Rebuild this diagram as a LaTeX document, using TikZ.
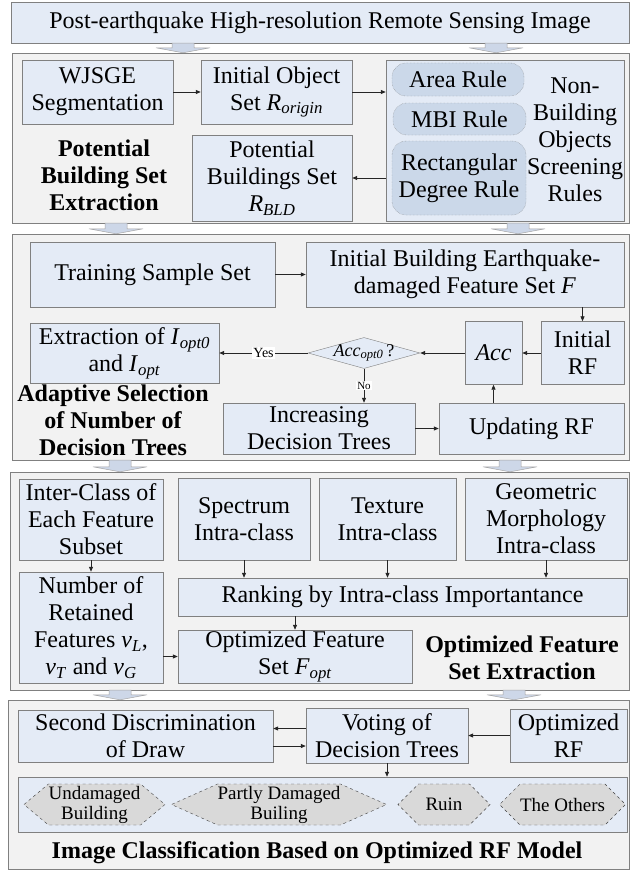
\documentclass[tikz,border=0pt]{standalone}
\usepackage{fontspec}
\setmainfont{Liberation Serif}
\usetikzlibrary{shapes.geometric,shapes.symbols,arrows.meta,calc}

\definecolor{boxfill}{RGB}{228,235,246}
\definecolor{panelfill}{RGB}{242,242,242}
\definecolor{linegray}{RGB}{128,128,128}
\definecolor{rulefill}{RGB}{203,216,233}
\definecolor{hexfill}{RGB}{217,217,217}
\definecolor{arrfill}{RGB}{205,215,232}

\newcommand{\itsub}[2]{\textit{#1}\textsubscript{\textit{#2}}}
% wide flat arrow between two stacked blocks
\newcommand{\fatarrow}[3]{%
  \coordinate (fa-x) at (#1,0);
  \coordinate (fa-top) at (fa-x |- #2.south);
  \coordinate (fa-tip) at (fa-x |- #3.north);
  \filldraw[hollowarr] ($(fa-top)+(-11,0)$) -- ($(fa-top)+(11,0)$) -- ($(fa-tip)+(11,-5)$)
    -- ($(fa-tip)+(27,-5)$) -- (fa-tip) -- ($(fa-tip)+(-27,-5)$) -- ($(fa-tip)+(-11,-5)$) -- cycle;}

\begin{document}
\begin{tikzpicture}[x=1pt,y=-1pt,
    box/.style={draw=linegray,fill=boxfill,align=center,inner sep=0pt,font=\fontsize{24}{27}\selectfont},
    panel/.style={draw=linegray,fill=panelfill,inner sep=0pt},
    rulebox/.style={draw=linegray,densely dotted,fill=rulefill,rounded corners=14pt,align=center,inner sep=0pt,font=\fontsize{24}{27}\selectfont},
    hexa/.style={signal,signal to=east and west,draw=black!75,dashed,fill=hexfill,align=center,inner sep=0pt,minimum height=41,font=\fontsize{19}{20}\selectfont},
    decide/.style={diamond,draw=linegray,fill=boxfill,inner sep=0pt},
    title/.style={align=center,font=\fontsize{24}{27}\selectfont\bfseries},
    link/.style={draw=black!85,line width=0.8pt,-{Triangle[length=5pt,width=4pt]}},
    hollowarr/.style={draw=linegray!70,fill=arrfill,line width=0.5pt}]
\useasboundingbox[fill=white] (0,0) rectangle (630,875);

% blocks
\node[box,minimum width=618,minimum height=41] (img) at (320,22.5) {Post-earthquake High-resolution Remote Sensing Image};
\node[panel,minimum width=617,minimum height=170] (sec1) at (320.5,138) {};
\node[panel,minimum width=617,minimum height=226] (sec2) at (320.5,347) {};
\node[panel,minimum width=619,minimum height=218] (sec3) at (319.5,581) {};
\node[panel,minimum width=621,minimum height=169] (sec4) at (318.5,784.5) {};

\fatarrow{183}{img}{sec1}
\fatarrow{496}{img}{sec1}
\fatarrow{116}{sec1}{sec2}
\fatarrow{518}{sec1}{sec2}
\fatarrow{120}{sec2}{sec3}
\fatarrow{510}{sec2}{sec3}
\fatarrow{120}{sec3}{sec4}
\fatarrow{514}{sec3}{sec4}

% potential building set extraction
\node[box,minimum width=151,minimum height=64] (wjsge) at (97.5,92) {WJSGE\\Segmentation};
\node[box,minimum width=151,minimum height=64] (initobj) at (276.5,92) {Initial Object\\Set \itsub{R}{origin}};
\node[box,minimum width=238,minimum height=161] (rules) at (505,140.5) {};
\node[rulebox,minimum width=132,minimum height=33] (area) at (458,79.5) {Area Rule};
\node[rulebox,minimum width=133,minimum height=32] (mbi) at (459.5,119) {MBI Rule};
\node[rulebox,minimum width=134,minimum height=74] (rect) at (459,178) {Rectangular\\Degree Rule};
\node[align=center,font=\fontsize{24}{27}\selectfont] (nonbld) at (575,140) {Non-\\Building\\Objects\\Screening\\Rules};
\node[box,minimum width=160,minimum height=86] (potential) at (272,178) {Potential\\Buildings Set\\\itsub{R}{BLD}};
\node[title] (title1) at (104,175) {Potential\\Building Set\\Extraction};
\draw[link] (wjsge) -- (initobj);
\draw[link] (initobj.east) -- (initobj.east -| rules.west);
\draw[link] (rules.west |- potential.east) -- (potential.east);

% adaptive selection
\node[box,minimum width=245,minimum height=65] (train) at (152.5,274.5) {Training Sample Set};
\node[box,minimum width=318,minimum height=65] (initbld) at (465,274.5) {Initial Building Earthquake-\\damaged Feature Set \textit{F}};
\node[box,minimum width=189,minimum height=60] (extract) at (124.5,353) {Extraction of \itsub{I}{opt0}\\and \itsub{I}{opt}};
\node[decide,minimum width=112,minimum height=31,label={[font=\fontsize{18}{20}\selectfont]center:\itsub{Acc}{opt0}\,?}] (accopt) at (364,353) {};
\node[box,minimum width=57,minimum height=63] (acc) at (493.5,353) {\textit{Acc}};
\node[box,minimum width=83,minimum height=63] (initrf) at (582.5,353) {Initial\\RF};
\node[box,minimum width=192,minimum height=51] (increase) at (319,428.5) {Increasing\\Decision Trees};
\node[box,minimum width=185,minimum height=51] (update) at (531.5,428.5) {Updating RF};
\node[title] (title2) at (113,420) {Adaptive Selection\\of Number of\\Decision Trees};
\draw[link] (train) -- (initbld);
\draw[link] (initbld.south -| initrf.north) -- (initrf.north);
\draw[link] (initrf) -- (acc);
\draw[link] (acc) -- (accopt.east);
\draw[link] (accopt.west) -- node[fill=white,inner sep=1pt,font=\fontsize{14}{14}\selectfont] {Yes} (extract.east);
\draw[link] (accopt.south) -- node[fill=white,inner sep=1pt,font=\fontsize{11}{11}\selectfont] {No} (accopt.south |- increase.north);
\draw[link] (increase) -- (update);
\draw[link] (update.north -| acc.south) -- (acc.south);

% optimized feature set
\node[box,minimum width=144,minimum height=81] (inter) at (91,519.5) {Inter-Class of\\Each Feature\\Subset};
\node[box,minimum width=132,minimum height=82] (spectrum) at (244,519) {Spectrum\\Intra-class};
\node[box,minimum width=137,minimum height=82] (texture) at (387.5,519) {Texture\\Intra-class};
\node[box,minimum width=162,minimum height=82] (geom) at (546,519) {Geometric\\Morphology\\Intra-class};
\node[box,minimum width=449,minimum height=38] (ranking) at (402.5,597) {Ranking by Intra-class Importantance};
\node[box,minimum width=144,minimum height=111] (number) at (91,627.5) {Number of\\Retained\\Features \itsub{v}{L},\\\itsub{v}{T} and \itsub{v}{G}};
\node[box,minimum width=234,minimum height=53] (optset) at (295,656.5) {Optimized Feature\\Set \itsub{F}{opt}};
\node[title] (title3) at (522,658) {Optimized Feature\\Set Extraction};
\draw[link] (spectrum) -- (spectrum |- ranking.north);
\draw[link] (texture) -- (texture |- ranking.north);
\draw[link] (geom) -- (geom |- ranking.north);
\draw[link] (ranking.south -| optset.north) -- (optset.north);
\draw[link] (inter) -- (number);
\draw[link] (number.east |- optset.west) -- (optset.west);

% classification
\node[box,minimum width=255,minimum height=52] (second) at (145.5,736) {Second Discrimination\\of Draw};
\node[box,minimum width=162,minimum height=55] (voting) at (387,735.5) {Voting of\\Decision Trees};
\node[box,minimum width=117,minimum height=53] (optrf) at (568.5,735.5) {Optimized\\RF};
\node[box,minimum width=609,minimum height=55] (classes) at (322.5,804.5) {};
\node[hexa,minimum width=141,signal pointer angle=80] (undam) at (94.5,804.5) {Undamaged\\Building};
\node[hexa,minimum width=212,signal pointer angle=48] (partly) at (279,804.5) {Partly Damaged\\Builing};
\node[hexa,minimum width=92] (ruin) at (444,804.5) {Ruin};
\node[hexa,minimum width=125] (others) at (562.5,804.5) {The Others};
\node[title] (title4) at (317,853) {Image Classification Based on Optimized RF Model};
\draw[link] (optrf) -- (optrf.west -| voting.east);
\draw[link] ([yshift=7pt]voting.west) -- ([yshift=7pt]voting.west -| second.east);
\draw[link] ([yshift=-10pt]second.east) -- ([yshift=-10pt]second.east -| voting.west);
\draw[link] (voting) -- (voting |- classes.north);
\end{tikzpicture}
\end{document}
